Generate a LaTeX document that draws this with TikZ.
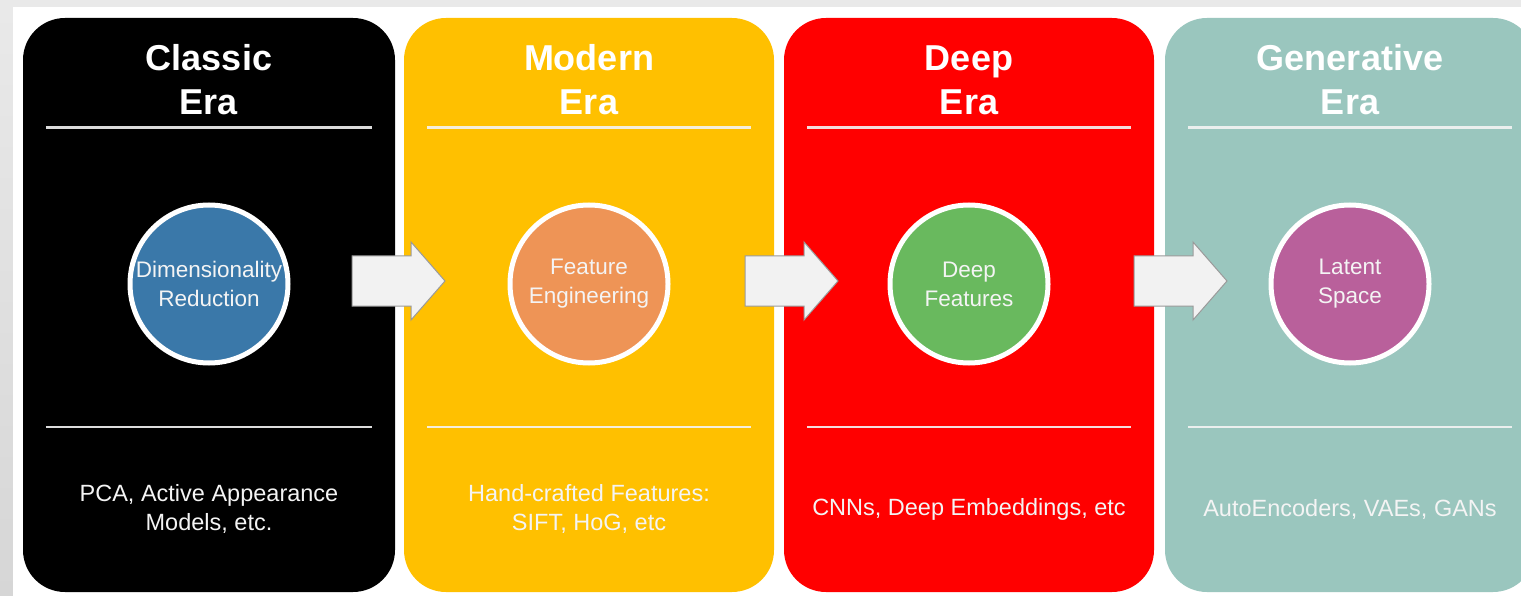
\documentclass[tikz,border=0pt]{standalone}
\usepackage{fontspec}
\setmainfont{Liberation Sans}
\usetikzlibrary{calc}

\definecolor{pagegray}{HTML}{E9E9E9}
\definecolor{edgegray}{HTML}{D6D6D6}
\definecolor{classicfill}{HTML}{000000}
\definecolor{modernfill}{HTML}{FFC000}
\definecolor{deepfill}{HTML}{FF0000}
\definecolor{genfill}{HTML}{9AC6BE}
\definecolor{bluedot}{HTML}{3A78A9}
\definecolor{orangedot}{HTML}{EE9456}
\definecolor{greendot}{HTML}{69B95E}
\definecolor{purpledot}{HTML}{B9609B}
\definecolor{arrowfill}{HTML}{F2F2F2}
\definecolor{arrowline}{HTML}{9A9A9A}
\definecolor{softwhite}{HTML}{F4F4F4}

\tikzset{
  panel/.style={rectangle, rounded corners=42pt, minimum width=370pt,
    minimum height=574pt, inner sep=0pt},
  erarule/.style={draw=softwhite, line width=2.6pt, opacity=0.9},
  eratitle/.style={text=white, align=center,
    font=\fontsize{36}{44}\selectfont\bfseries},
  dot/.style={circle, draw=white, line width=5pt, minimum size=158pt,
    inner sep=0pt, text=softwhite, align=center,
    font=\fontsize{22.5}{29}\selectfont},
  desc/.style={text=softwhite, align=center,
    font=\fontsize{23.5}{29}\selectfont},
  blockarrow/.pic={
    \draw[fill=arrowfill, draw=arrowline, line width=1pt, line join=miter]
      (0,-25) -- (59,-25) -- (59,-39) -- (93,0) -- (59,39) -- (59,25)
      -- (0,25) -- cycle;
  }
}

\begin{document}
\begin{tikzpicture}[x=1pt,y=-1pt]
\useasboundingbox (0,0) rectangle (1521,596);
\clip (0,0) rectangle (1521,596);

% page background with a grey frame on the top and left
\fill[pagegray] (0,0) rectangle (1521,596);
\shade[top color=pagegray, bottom color=edgegray] (0,7) rectangle (13,596);
\fill[white] (13,7) rectangle (1521,596);

% the four era panels
\node[panel, fill=classicfill, minimum width=372pt] (p1) at (209,305) {};
\node[panel, fill=modernfill] (p2) at (589,305) {};
\node[panel, fill=deepfill] (p3) at (969,305) {};
\node[panel, fill=genfill] (p4) at (1350,305) {};

% separator rules under the titles and above the descriptions
\foreach \p in {p1,p2,p3,p4}{
  \draw[erarule] ($(\p.north west)+(23,110)$) -- ($(\p.north east)+(-23,110)$);
  \draw[erarule] ($(\p.north west)+(23,409)$) -- ($(\p.north east)+(-23,409)$);
}

% titles
\node[eratitle] (t1) at (209,80) {Classic\\Era};
\node[eratitle] (t2) at (589,80) {Modern\\Era};
\node[eratitle] (t3) at (969,80) {Deep\\Era};
\node[eratitle] (t4) at (1350,80) {Generative\\Era};

% central concepts
\node[dot, fill=bluedot] (c1) at (209,284) {Dimensionality\\Reduction};
\node[dot, fill=orangedot] (c2) at (589,284) {Feature\\Engineering};
\node[dot, fill=greendot] (c3) at (969,284) {Deep\\Features};
\node[dot, fill=purpledot] (c4) at (1350,284) {Latent\\Space};

% representative methods
\node[desc] (d1) at (209,509) {PCA, Active Appearance\\Models, etc.};
\node[desc] (d2) at (589,509) {Hand-crafted Features:\\SIFT, HoG, etc};
\node[desc] (d3) at (969,509) {CNNs, Deep Embeddings, etc};
\node[desc] (d4) at (1350,509) {AutoEncoders, VAEs, GANs};

% progression arrows between the eras
\pic (a1) at (352,281) {blockarrow};
\pic (a2) at (745,281) {blockarrow};
\pic (a3) at (1134,281) {blockarrow};
\end{tikzpicture}
\end{document}
